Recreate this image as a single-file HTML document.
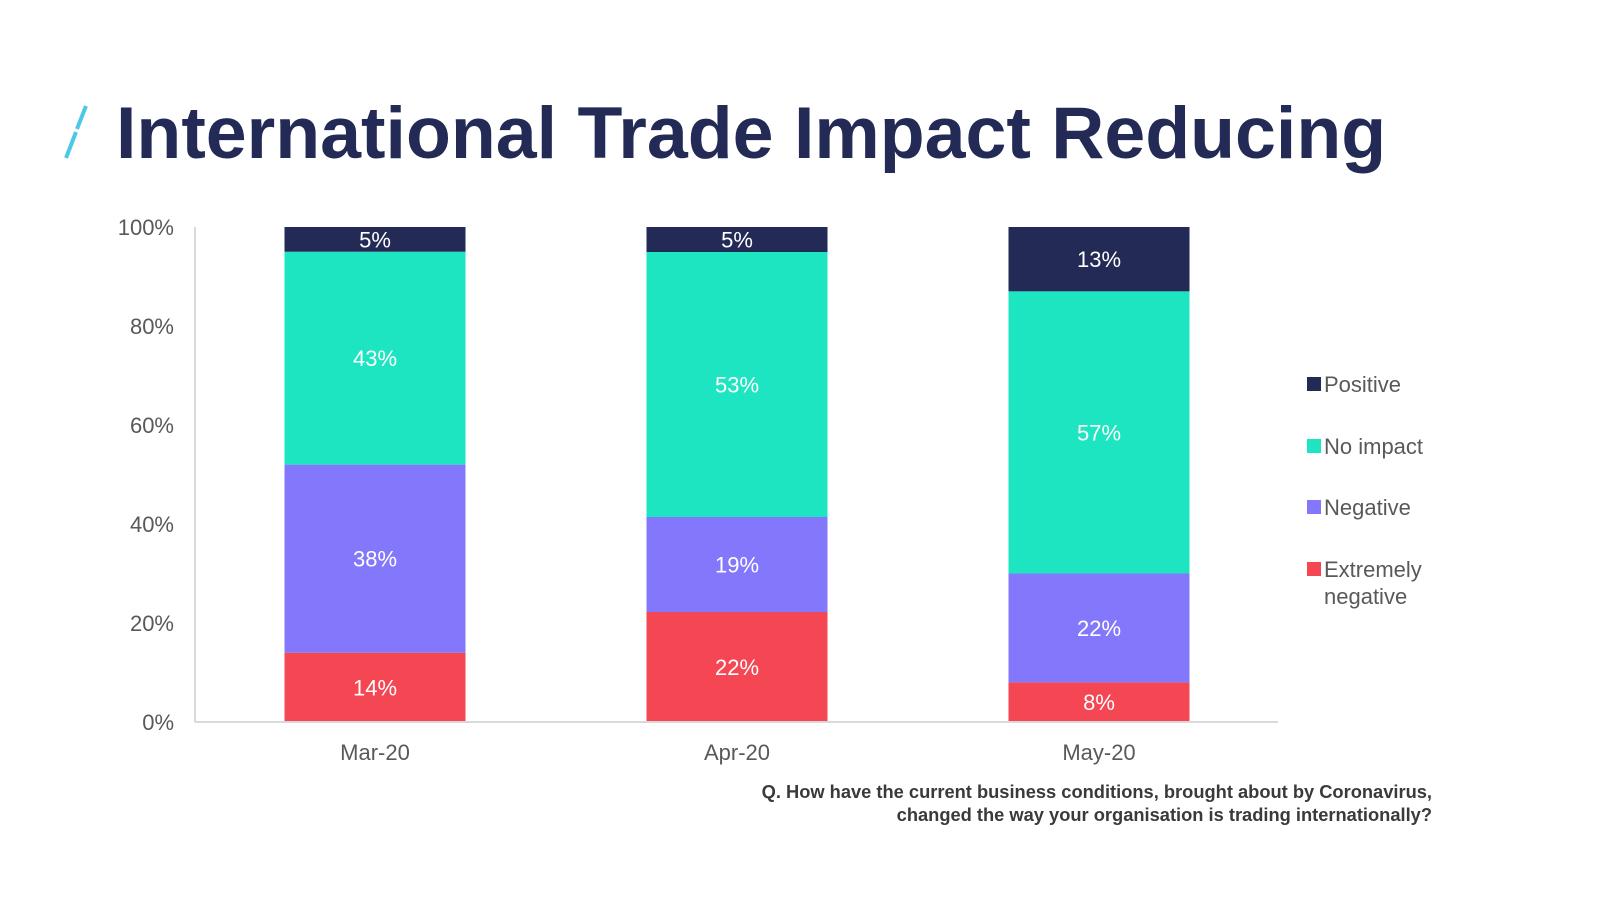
<!DOCTYPE html>
<html><head><meta charset="utf-8"><style>
body{margin:0;width:1600px;height:900px;background:#fff;font-family:"Liberation Sans",sans-serif;overflow:hidden;position:relative}
</style></head><body>
<svg width="1600" height="900" style="position:absolute;left:0;top:0">
<line x1="66" y1="158" x2="76" y2="132" stroke="#4dc9e6" stroke-width="4"/>
<line x1="77" y1="129" x2="86" y2="106" stroke="#4dc9e6" stroke-width="4"/>
<text x="116" y="158" font-size="73.5" font-weight="bold" fill="#222a55" font-family="Liberation Sans">International Trade Impact Reducing</text>
<g id="plot"></g>
<text x="1432" y="798" text-anchor="end" font-size="18.3" font-weight="bold" fill="#3a3a3a">Q. How have the current business conditions, brought about by Coronavirus,</text>
<text x="1432" y="821" text-anchor="end" font-size="18.3" font-weight="bold" fill="#3a3a3a">changed the way your organisation is trading internationally?</text>
</svg>
<script>
const categories=["Mar-20","Apr-20","May-20"];
const seriesNames=["Extremely negative","Negative","No impact","Positive"];
const extremelyNegative=[14,22,8];
const negative=[38,19,22];
const noImpact=[43,53,57];
const positive=[5,5,13];
const yTicks=[0,20,40,60,80,100];
const colors=["#f44653","#8378fc","#1de5c1","#222a55"];
const NS="http://www.w3.org/2000/svg";
const g=document.getElementById('plot');
const X0=195,X1=1278,Y0=722,Y1=227,BW=181;
const y=v=>Y0-(v/100)*(Y0-Y1);
const xc=i=>375+i*362;
function mk(t,a,txt){const e=document.createElementNS(NS,t);for(const k in a)e.setAttribute(k,a[k]);if(txt!==undefined)e.textContent=txt;g.appendChild(e);return e;}
yTicks.forEach(v=>{const e=mk('text',{x:174,y:y(v)+8,'text-anchor':'end','font-size':22,fill:'#595959'},v+'%');

});
const series=[extremelyNegative,negative,noImpact,positive];
categories.forEach((c,i)=>{
 const tot=series.reduce((s,a)=>s+a[i],0);let acc=0;
 series.forEach((arr,j)=>{
  const v=arr[i]/tot*100;const top=y(acc+v),bot=y(acc);
  const r=mk('rect',{x:xc(i)-BW/2,y:top,width:BW,height:bot-top,fill:colors[j]});
  
  
  const l=mk('text',{x:xc(i),y:(top+bot)/2+8,'text-anchor':'middle','font-size':22,fill:'#fff'},arr[i]+'%');
  
  
  acc+=v;});
 const cl=mk('text',{x:xc(i),y:760,'text-anchor':'middle','font-size':22,fill:'#595959'},c);
 
 
});
const ax=mk('line',{x1:X0,y1:Y1,x2:X0,y2:Y0,stroke:'#d9d9d9','stroke-width':2});


const bx=mk('line',{x1:X0,y1:Y0,x2:X1,y2:Y0,stroke:'#d9d9d9','stroke-width':2});


const legY=[384,446,507,569];
[3,2,1,0].forEach((j,k)=>{
 const s=mk('rect',{x:1307,y:legY[k]-7,width:14,height:14,fill:colors[j]});
 
 
 const parts=j===0?["Extremely","negative"]:[seriesNames[j]];
 parts.forEach((p,q)=>{const t=mk('text',{x:1324,y:legY[k]+8+q*27,'font-size':22,fill:'#595959'},p);
 
 });
});
</script>
</body></html>
